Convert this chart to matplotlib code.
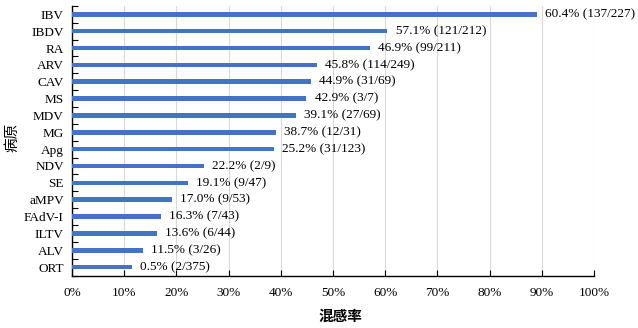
import matplotlib
matplotlib.use("Agg")
import matplotlib.pyplot as plt
from matplotlib.ticker import MultipleLocator, PercentFormatter

pathogens = ["IBV", "IBDV", "RA", "ARV", "CAV", "MS", "MDV", "MG", "Apg",
             "NDV", "SE", "aMPV", "FAdV-I", "ILTV", "ALV", "ORT"]
# bar lengths as drawn (%)
bar_values = [89.0, 60.4, 57.1, 46.9, 45.8, 44.9, 42.9, 39.1, 38.7,
              25.2, 22.2, 19.1, 17.0, 16.3, 13.6, 11.5]
bar_labels = ["60.4% (137/227)", "57.1% (121/212)", "46.9% (99/211)",
              "45.8% (114/249)", "44.9% (31/69)", "42.9% (3/7)",
              "39.1% (27/69)", "38.7% (12/31)", "25.2% (31/123)",
              "22.2% (2/9)", "19.1% (9/47)", "17.0% (9/53)", "16.3% (7/43)",
              "13.6% (6/44)", "11.5% (3/26)", "0.5% (2/375)"]

plt.rcParams['font.family'] = ['Liberation Serif', 'Noto Sans CJK SC']
plt.rcParams['font.size'] = 9.5

fig = plt.figure(figsize=(6.38, 3.28), dpi=100)
ax = fig.add_axes([0.113, 0.160, 0.818, 0.822])

ypos = list(range(len(pathogens)))[::-1]
ax.barh(ypos, bar_values, height=0.27, color="#4472C4", zorder=3)
for y, v, lab in zip(ypos, bar_values, bar_labels):
    ax.annotate(lab, (v, y), xytext=(6, 0), textcoords="offset points",
                va="center", ha="left", fontsize=9.5)

ax.set_xlim(0, 100)
ax.set_ylim(-0.5, len(pathogens) - 0.5)
ax.set_yticks(ypos)
ax.set_yticklabels(pathogens)
ax.xaxis.set_major_locator(MultipleLocator(10))
ax.xaxis.set_major_formatter(PercentFormatter(decimals=0))
ax.grid(axis="x", color="#d9d9d9", linewidth=0.8, zorder=0)

# category boundary ticks on the y axis
ax.set_yticks([i + 0.5 for i in range(-1, len(pathogens))], minor=True)
ax.tick_params(axis="y", which="major", length=0, pad=6)
ax.tick_params(axis="y", which="minor", direction="in", length=4, width=0.8)
ax.tick_params(axis="x", direction="in", length=4, width=0.8, pad=8)

for s in ["top", "right"]:
    ax.spines[s].set_visible(False)
for s in ["left", "bottom"]:
    ax.spines[s].set_linewidth(1.0)

ax.set_xlabel("混感率", family=['Noto Sans CJK SC'], fontsize=10.5, fontweight="bold", va="center")
ax.xaxis.set_label_coords(0.514, -0.148)
ax.set_ylabel("病原", family=['Noto Sans CJK SC'], fontsize=10.5, va="center")
ax.yaxis.set_label_coords(-0.115, 0.513)

fig.savefig("out.png", dpi=100)
